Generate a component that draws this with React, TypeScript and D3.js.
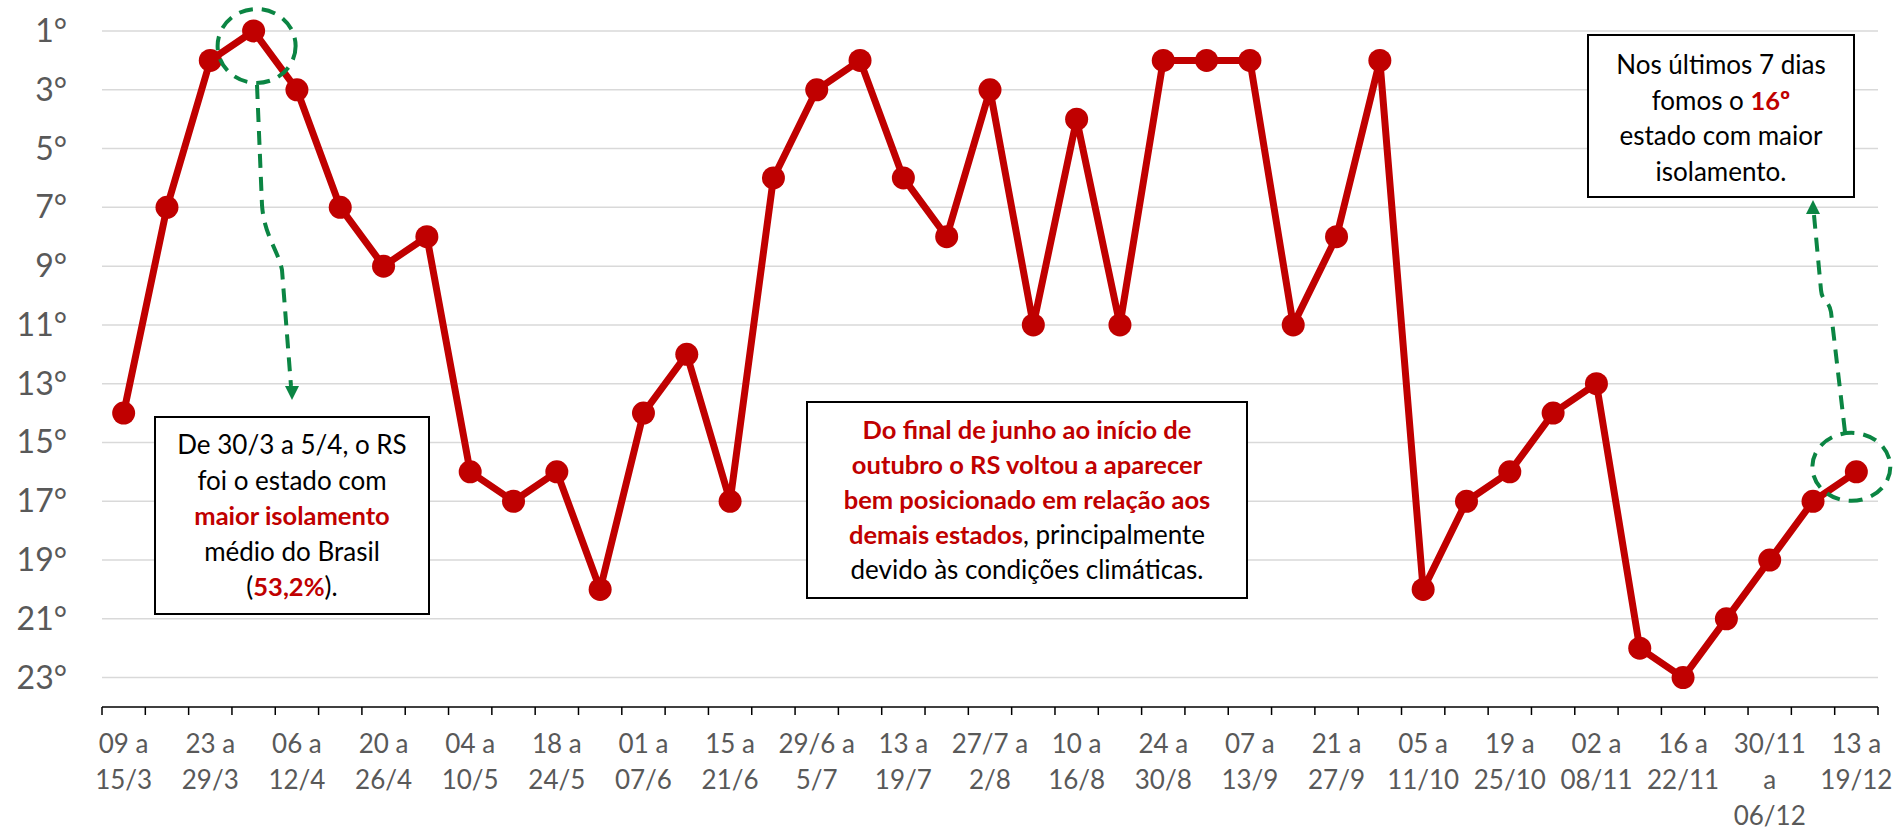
import { useEffect } from 'react'
import * as d3 from 'd3'

// posição do RS no ranking de isolamento, semana a semana
const ranks = [
  14, 7, 2, 1, 3, 7, 9, 8, 16, 17, 16, 20, 14, 12, 17, 6, 3, 2, 6, 8, 3,
  11, 4, 11, 2, 2, 2, 11, 8, 2, 20, 17, 16, 14, 13, 22, 23, 21, 19, 17, 16,
]

// rótulos do eixo x (a cada duas semanas)
const tickLabels = [
  ['09 a', '15/3'], ['23 a', '29/3'], ['06 a', '12/4'], ['20 a', '26/4'],
  ['04 a', '10/5'], ['18 a', '24/5'], ['01 a', '07/6'], ['15 a', '21/6'],
  ['29/6 a', '5/7'], ['13 a', '19/7'], ['27/7 a', '2/8'], ['10 a', '16/8'],
  ['24 a', '30/8'], ['07 a', '13/9'], ['21 a', '27/9'], ['05 a', '11/10'],
  ['19 a', '25/10'], ['02 a', '08/11'], ['16 a', '22/11'], ['30/11', 'a', '06/12'],
  ['13 a', '19/12'],
]

const yTicks = [1, 3, 5, 7, 9, 11, 13, 15, 17, 19, 21, 23]

const RED = '#c00000'
const GREEN = '#0b8543'
const FONT = 'Lato, "Open Sans", sans-serif'

type Seg = { t: string; bold?: boolean; red?: boolean }

function Note({ x, y, w, h, lines, top, step }: {
  x: number; y: number; w: number; h: number; lines: Seg[][]; top: number; step: number
}) {
  return (
    <g>
      <rect x={x} y={y} width={w} height={h} fill="white" stroke="#000" strokeWidth={2} />
      {lines.map((segs, i) => (
        <text key={i} x={x + w / 2} y={top + i * step} textAnchor="middle"
          fontFamily={FONT} fontSize={26} fill="#000">
          {segs.map((s, j) => (
            <tspan key={j} fontWeight={s.bold ? 700 : 400} fontSize={s.bold ? 25.5 : 26}
              fill={s.red ? RED : '#000'}>{s.t}</tspan>
          ))}
        </text>
      ))}
    </g>
  )
}

export default function App() {
  useEffect(() => {
    document.body.style.margin = '0'
  }, [])

  const width = 1895
  const height = 830
  const left = 102
  const right = 1878
  const axisY = 707

  const x = d3.scaleBand<number>().domain(d3.range(ranks.length)).range([left, right])
  const bw = x.bandwidth()
  const cx = (i: number) => (x(i) as number) + bw / 2
  const y = d3.scaleLinear().domain([0, 24]).range([1.6, axisY])

  const line = d3.line<number>().x((_, i) => cx(i)).y(d => y(d))

  const tickXs = d3.range(ranks.length + 1).map(i => left + i * bw)

  return (
    <svg width={width} height={height} style={{ display: 'block', background: 'white' }}>
      {/* grade */}
      {yTicks.map(t => (
        <g key={t}>
          <line x1={left} x2={right} y1={y(t)} y2={y(t)} stroke="#d9d9d9" strokeWidth={1.5} />
          <text x={67} y={y(t) + 11} textAnchor="end" fontFamily={FONT} fontSize={32} fill="#595959">
            {t}°
          </text>
        </g>
      ))}

      {/* eixo x */}
      <line x1={left} x2={right} y1={axisY} y2={axisY} stroke="#000" strokeWidth={1.5} />
      {tickXs.map((tx, i) => (
        <line key={i} x1={tx} x2={tx} y1={axisY} y2={axisY + 8} stroke="#000" strokeWidth={1.5} />
      ))}
      {tickLabels.map((lines, k) => (
        <text key={k} textAnchor="middle" fontFamily={FONT} fontSize={26} fill="#595959">
          {lines.map((l, j) => (
            <tspan key={j} x={cx(k * 2)} y={753 + j * 36}>{l}</tspan>
          ))}
        </text>
      ))}

      {/* série */}
      <path d={line(ranks) || ''} fill="none" stroke={RED} strokeWidth={7} strokeLinejoin="round" />
      {ranks.map((r, i) => (
        <circle key={i} cx={cx(i)} cy={y(r)} r={11.5} fill={RED} />
      ))}

      {/* destaques */}
      <g fill="none" stroke={GREEN} strokeWidth={4} strokeDasharray="14 9">
        <ellipse cx={cx(3) + 3} cy={y(1) + 15} rx={39} ry={37} />
        <ellipse cx={cx(40) - 5} cy={y(16) - 5} rx={39} ry={34} />
        <path d="M257,85 L262,205 C264,235 278,250 282,270 L291,386" />
        <path d="M1845,432 L1831,312 C1829,300 1822,302 1821,290 L1814,215" />
      </g>
      <path d="M292,400 L285,386 L299,386 Z" fill={GREEN} />
      <path d="M1813,200 L1806,214 L1820,214 Z" fill={GREEN} />

      <Note x={155} y={417} w={274} h={197} top={454} step={35.5} lines={[
        [{ t: 'De 30/3 a 5/4, o RS' }],
        [{ t: 'foi o estado com' }],
        [{ t: 'maior isolamento', bold: true, red: true }],
        [{ t: 'médio do Brasil' }],
        [{ t: '(' }, { t: '53,2%', bold: true, red: true }, { t: ').' }],
      ]} />

      <Note x={807} y={402} w={440} h={196} top={439} step={35} lines={[
        [{ t: 'Do final de junho ao início de', bold: true, red: true }],
        [{ t: 'outubro o RS voltou a aparecer', bold: true, red: true }],
        [{ t: 'bem posicionado em relação aos', bold: true, red: true }],
        [{ t: 'demais estados', bold: true, red: true }, { t: ', principalmente' }],
        [{ t: 'devido às condições climáticas.' }],
      ]} />

      <Note x={1588} y={35} w={266} h={162} top={74} step={35.5} lines={[
        [{ t: 'Nos últimos 7 dias' }],
        [{ t: 'fomos o ' }, { t: '16º', bold: true, red: true }],
        [{ t: 'estado com maior' }],
        [{ t: 'isolamento.' }],
      ]} />
    </svg>
  )
}
